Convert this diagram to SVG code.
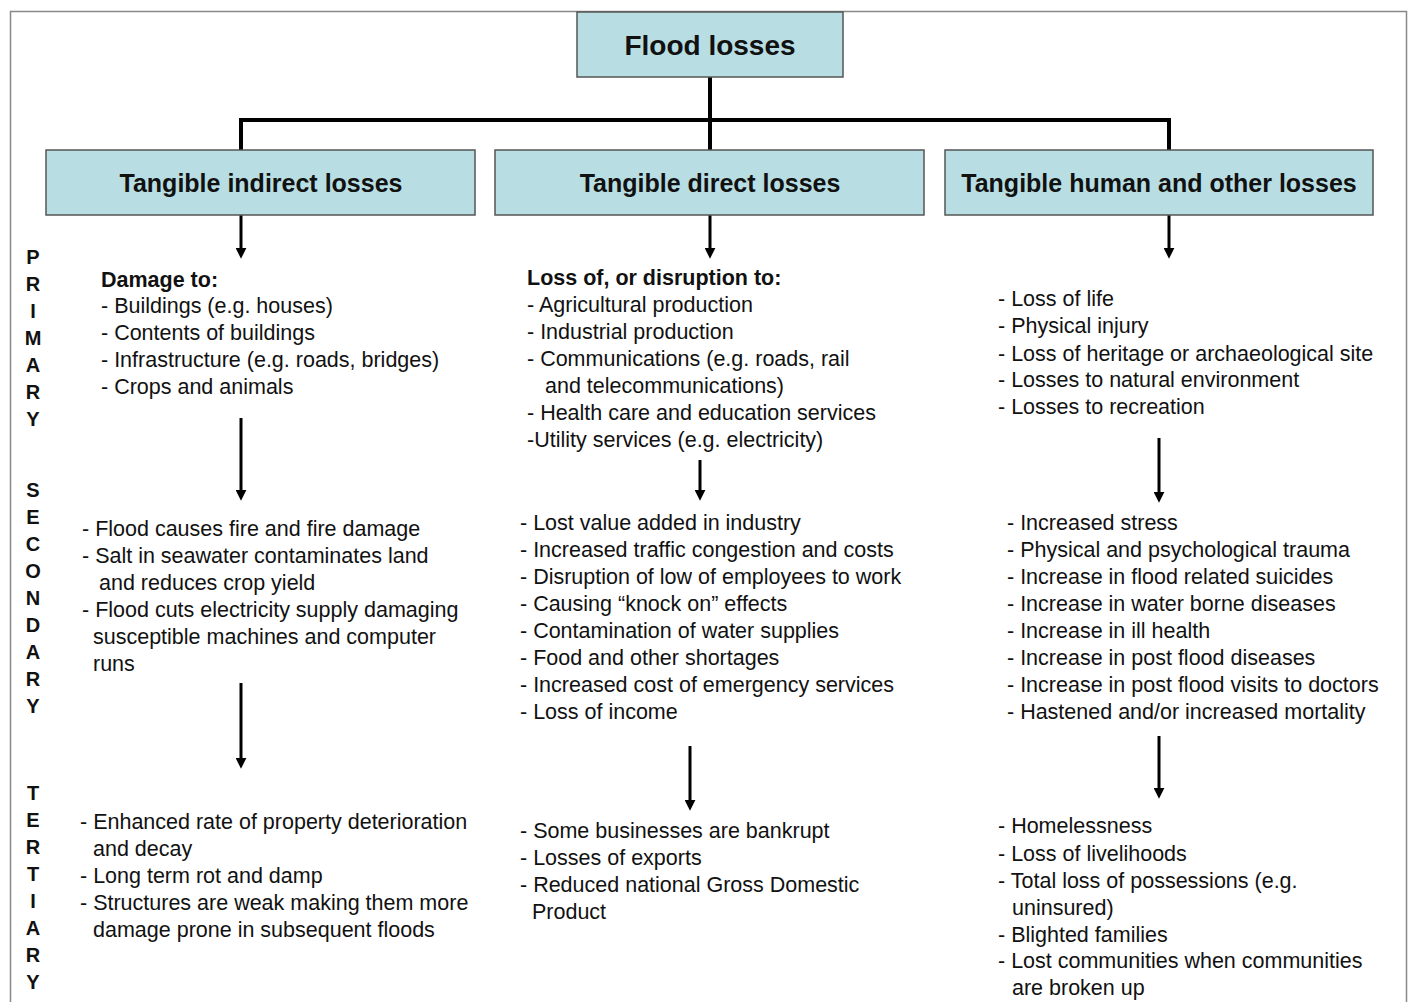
<svg xmlns="http://www.w3.org/2000/svg" width="1408" height="1002" viewBox="0 0 1408 1002">
<defs>
<style>
.box{fill:#b8dee3;stroke:#555;stroke-width:1.5}
.title{font-family:"Liberation Sans",Arial,sans-serif;font-weight:bold;fill:#111;text-anchor:middle}
.t{font-family:"Liberation Sans",Arial,sans-serif;font-size:21.5px;fill:#111}
.b{font-weight:bold}
.side{font-family:"Liberation Sans",Arial,sans-serif;font-size:20px;font-weight:bold;fill:#111;text-anchor:middle}
.conn{stroke:#000;stroke-width:4;fill:none}
.arr{stroke:#000;stroke-width:3;fill:none;marker-end:url(#ah)}
</style>
<marker id="ah" viewBox="0 0 10 10" refX="2" refY="5" markerWidth="11" markerHeight="11" markerUnits="userSpaceOnUse" orient="auto">
<path d="M0,0 L10,5 L0,10 z" fill="#000"/>
</marker>
</defs>
<rect x="0" y="0" width="1408" height="1002" fill="#fff"/>
<rect x="10.5" y="11.5" width="1396" height="1010" fill="none" stroke="#888" stroke-width="1.5"/>

<g id="connectors">
<path class="conn" d="M710,77 V150 M241,150 V120 H1169 V150"/>
<line class="arr" x1="241" y1="215" x2="241" y2="250"/>
<line class="arr" x1="710" y1="215" x2="710" y2="250"/>
<line class="arr" x1="1169" y1="215" x2="1169" y2="250"/>
<line class="arr" x1="241" y1="418" x2="241" y2="492"/>
<line class="arr" x1="241" y1="683" x2="241" y2="760"/>
<line class="arr" x1="700" y1="460" x2="700" y2="492"/>
<line class="arr" x1="690" y1="746" x2="690" y2="802"/>
<line class="arr" x1="1159" y1="438" x2="1159" y2="494"/>
<line class="arr" x1="1159" y1="736" x2="1159" y2="790"/>
</g>

<g id="flood-losses">
<rect class="box" x="577" y="12" width="266" height="65"/>
<text class="title" x="710" y="55" font-size="28">Flood losses</text>
</g>

<g id="tangible-indirect">
<rect class="box" x="46" y="150" width="429" height="65"/>
<text class="title" x="261" y="192" font-size="25">Tangible indirect losses</text>
</g>

<g id="tangible-direct">
<rect class="box" x="495" y="150" width="429" height="65"/>
<text class="title" x="710" y="192" font-size="25">Tangible direct losses</text>
</g>

<g id="tangible-human">
<rect class="box" x="945" y="150" width="428" height="65"/>
<text class="title" x="1159" y="192" font-size="25">Tangible human and other losses</text>
</g>

<g id="side-labels">
<text class="side"><tspan x="33" y="264">P</tspan><tspan x="33" y="291">R</tspan><tspan x="33" y="318">I</tspan><tspan x="33" y="345">M</tspan><tspan x="33" y="372">A</tspan><tspan x="33" y="399">R</tspan><tspan x="33" y="426">Y</tspan></text>
<text class="side"><tspan x="33" y="497">S</tspan><tspan x="33" y="524">E</tspan><tspan x="33" y="551">C</tspan><tspan x="33" y="578">O</tspan><tspan x="33" y="605">N</tspan><tspan x="33" y="632">D</tspan><tspan x="33" y="659">A</tspan><tspan x="33" y="686">R</tspan><tspan x="33" y="713">Y</tspan></text>
<text class="side"><tspan x="33" y="800">T</tspan><tspan x="33" y="827">E</tspan><tspan x="33" y="854">R</tspan><tspan x="33" y="881">T</tspan><tspan x="33" y="908">I</tspan><tspan x="33" y="935">A</tspan><tspan x="33" y="962">R</tspan><tspan x="33" y="989">Y</tspan></text>
</g>

<g id="indirect-primary">
<text class="t"><tspan class="b" x="101" y="287">Damage to:</tspan><tspan x="101" y="313">- Buildings (e.g. houses)</tspan><tspan x="101" y="340">- Contents of buildings</tspan><tspan x="101" y="367">- Infrastructure (e.g. roads, bridges)</tspan><tspan x="101" y="394">- Crops and animals</tspan></text>
</g>

<g id="indirect-secondary">
<text class="t"><tspan x="82" y="536">- Flood causes fire and fire damage</tspan><tspan x="82" y="563">- Salt in seawater contaminates land</tspan><tspan x="99" y="590">and reduces crop yield</tspan><tspan x="82" y="617">- Flood cuts electricity supply damaging</tspan><tspan x="93" y="644">susceptible machines and computer</tspan><tspan x="93" y="671">runs</tspan></text>
</g>

<g id="indirect-tertiary">
<text class="t"><tspan x="80" y="829">- Enhanced rate of property deterioration</tspan><tspan x="93" y="856">and decay</tspan><tspan x="80" y="883">- Long term rot and damp</tspan><tspan x="80" y="910">- Structures are weak making them more</tspan><tspan x="93" y="937">damage prone in subsequent floods</tspan></text>
</g>

<g id="direct-primary">
<text class="t"><tspan class="b" x="527" y="285">Loss of, or disruption to:</tspan><tspan x="527" y="312">- Agricultural production</tspan><tspan x="527" y="339">- Industrial production</tspan><tspan x="527" y="366">- Communications (e.g. roads, rail</tspan><tspan x="545" y="393">and telecommunications)</tspan><tspan x="527" y="420">- Health care and education services</tspan><tspan x="527" y="447">-Utility services (e.g. electricity)</tspan></text>
</g>

<g id="direct-secondary">
<text class="t"><tspan x="520" y="530">- Lost value added in industry</tspan><tspan x="520" y="557">- Increased traffic congestion and costs</tspan><tspan x="520" y="584">- Disruption of low of employees to work</tspan><tspan x="520" y="611">- Causing “knock on” effects</tspan><tspan x="520" y="638">- Contamination of water supplies</tspan><tspan x="520" y="665">- Food and other shortages</tspan><tspan x="520" y="692">- Increased cost of emergency services</tspan><tspan x="520" y="719">- Loss of income</tspan></text>
</g>

<g id="direct-tertiary">
<text class="t"><tspan x="520" y="838">- Some businesses are bankrupt</tspan><tspan x="520" y="865">- Losses of exports</tspan><tspan x="520" y="892">- Reduced national Gross Domestic</tspan><tspan x="532" y="919">Product</tspan></text>
</g>

<g id="human-primary">
<text class="t"><tspan x="998" y="306">- Loss of life</tspan><tspan x="998" y="333">- Physical injury</tspan><tspan x="998" y="361">- Loss of heritage or archaeological site</tspan><tspan x="998" y="387">- Losses to natural environment</tspan><tspan x="998" y="414">- Losses to recreation</tspan></text>
</g>

<g id="human-secondary">
<text class="t"><tspan x="1007" y="530">- Increased stress</tspan><tspan x="1007" y="557">- Physical and psychological trauma</tspan><tspan x="1007" y="584">- Increase in flood related suicides</tspan><tspan x="1007" y="611">- Increase in water borne diseases</tspan><tspan x="1007" y="638">- Increase in ill health</tspan><tspan x="1007" y="665">- Increase in post flood diseases</tspan><tspan x="1007" y="692">- Increase in post flood visits to doctors</tspan><tspan x="1007" y="719">- Hastened and/or increased mortality</tspan></text>
</g>

<g id="human-tertiary">
<text class="t"><tspan x="998" y="833">- Homelessness</tspan><tspan x="998" y="861">- Loss of livelihoods</tspan><tspan x="998" y="888">- Total loss of possessions (e.g.</tspan><tspan x="1012" y="915">uninsured)</tspan><tspan x="998" y="942">- Blighted families</tspan><tspan x="998" y="968">- Lost communities when communities</tspan><tspan x="1012" y="995">are broken up</tspan></text>
</g>
</svg>
